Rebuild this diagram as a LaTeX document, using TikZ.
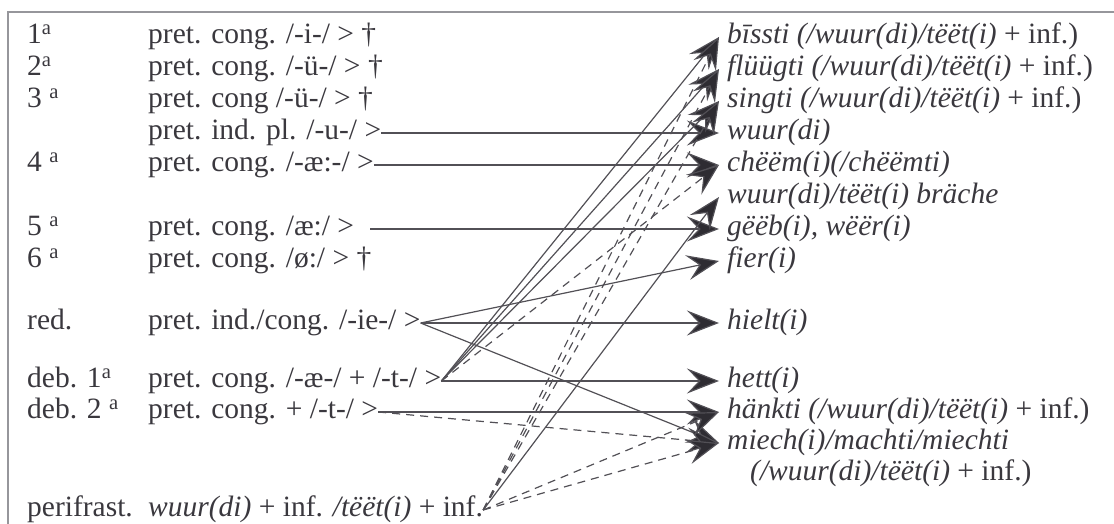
\documentclass[tikz,border=0pt]{standalone}
\usepackage{fontspec}
\setmainfont{Liberation Serif}
\usetikzlibrary{arrows.meta,positioning}
\definecolor{InkCol}{RGB}{58,56,62}
\definecolor{LineCol}{RGB}{82,80,86}
\definecolor{HeadCol}{RGB}{46,44,50}
\definecolor{FrameCol}{RGB}{150,150,155}
\tikzset{
  kjframe/.style={line width=1.4pt, draw=FrameCol},
  kjsolid/.style={-{Stealth[length=32pt,width=25pt,inset=12pt,fill=HeadCol]}, line width=1.2pt, draw=LineCol},
  kjdash/.style={kjsolid, dash pattern=on 8pt off 6pt},
  kjlab/.style={font=\fontsize{29.5}{32}\selectfont, text=InkCol, inner sep=0pt, anchor=west,
    text height=20pt, text depth=6.5pt},
  kjform/.style={kjlab, inner xsep=8pt}
}

\begin{document}
\begin{tikzpicture}[x=1pt,y=-1pt]
  \useasboundingbox (0,0) rectangle (1114,524);
  \draw[kjframe] (8,524) -- (8,12) -- (1114,12);
  \foreach \y/\nm/\lab in {37/c1/{1\textsuperscript{a}}, 69/c2/{2\textsuperscript{a}},
      101/c3/{3 \textsuperscript{a}}, 165/c4/{4 \textsuperscript{a}}, 229/c5/{5 \textsuperscript{a}},
      261/c6/{6 \textsuperscript{a}}, 323/cred/{red.}, 381/cdeb1/{deb. 1\textsuperscript{a}},
      412/cdeb2/{deb. 2 \textsuperscript{a}}, 510/cperi/{perifrast.}}
    \node[kjlab] (\nm) at (27,\y) {\lab};

  \node[kjlab] (p1) at (148,37) {pret. cong. /-i-/ > †};
  \node[kjlab] (p2) at (148,69) {pret. cong. /-ü-/ > †};
  \node[kjlab] (p3) at (148,101) {pret. cong /-ü-/ > †};
  \node[kjlab] (ppl) at (148,133) {pret. ind. pl. /-u-/ >};
  \node[kjlab] (p4) at (148,165) {pret. cong. /-æ:-/ >};
  \node[kjlab] (p5) at (148,229) {pret. cong. /æ:/ >};
  \node[kjlab] (p6) at (148,261) {pret. cong. /ø:/ > †};
  \node[kjlab] (pred) at (148,323) {pret. ind./cong. /-ie-/ >};
  \node[kjlab] (pdeb1) at (148,381) {pret. cong. /-æ-/ + /-t-/ >};
  \node[kjlab] (pdeb2) at (148,412) {pret. cong. + /-t-/ >};
  \node[kjlab] (pperi) at (148,510) {\textit{wuur(di)} + inf. \textit{/tëët(i)} + inf.};

  \node[kjform] (bissti) at (719,37) {\textit{bīssti (/wuur(di)/tëët(i)} + inf.)};
  \node[kjform] (fluugti) at (719,69) {\textit{flüügti (/wuur(di)/tëët(i)} + inf.)};
  \node[kjform] (singti) at (719,101) {\textit{singti (/wuur(di)/tëët(i)} + inf.)};
  \node[kjform] (wuurdi) at (719,133) {\textit{wuur(di)}};
  \node[kjform] (cheem) at (719,165) {\textit{chëëm(i)(/chëëmti)}};
  \node[kjform] (braeche) at (719,197) {\textit{wuur(di)/tëët(i) bräche}};
  \node[kjform] (geeb) at (719,229) {\textit{gëëb(i), wëër(i)}};
  \node[kjform] (fier) at (719,261) {\textit{fier(i)}};
  \node[kjform] (hielt) at (719,323) {\textit{hielt(i)}};
  \node[kjform] (hett) at (719,381) {\textit{hett(i)}};
  \node[kjform] (haenkti) at (719,412) {\textit{hänkti (/wuur(di)/tëët(i)} + inf.)};
  \node[kjform] (miech) at (719,443) {\textit{miech(i)/machti/miechti}};
  \node[kjform] (miechb) at (742,474) {\textit{(/wuur(di)/tëët(i)} + inf.)};

  \draw[kjsolid] (ppl.east) -- (wuurdi.west);
  \draw[kjsolid] (p4.east) -- (cheem.west);
  \draw[kjsolid, shorten <=16pt] (p5.east) -- (geeb.west);
  \foreach \tgt in {fier,hielt,miech}
    \draw[kjsolid] (pred.east) -- (\tgt.west);
  \foreach \tgt in {bissti,fluugti,singti,hett}
    \draw[kjsolid] (pdeb1.east) -- (\tgt.west);
  \draw[kjsolid] (pdeb2.east) -- (haenkti.west);
  \draw[kjsolid] (pperi.east) -- (braeche.west);
  \draw[kjdash] (pdeb1.east) -- (cheem.west);
  \draw[kjdash] (pdeb2.east) -- (miech.west);
  \foreach \tgt in {bissti,fluugti,singti,haenkti,miech}
    \draw[kjdash] (pperi.east) -- (\tgt.west);
\end{tikzpicture}
\end{document}
